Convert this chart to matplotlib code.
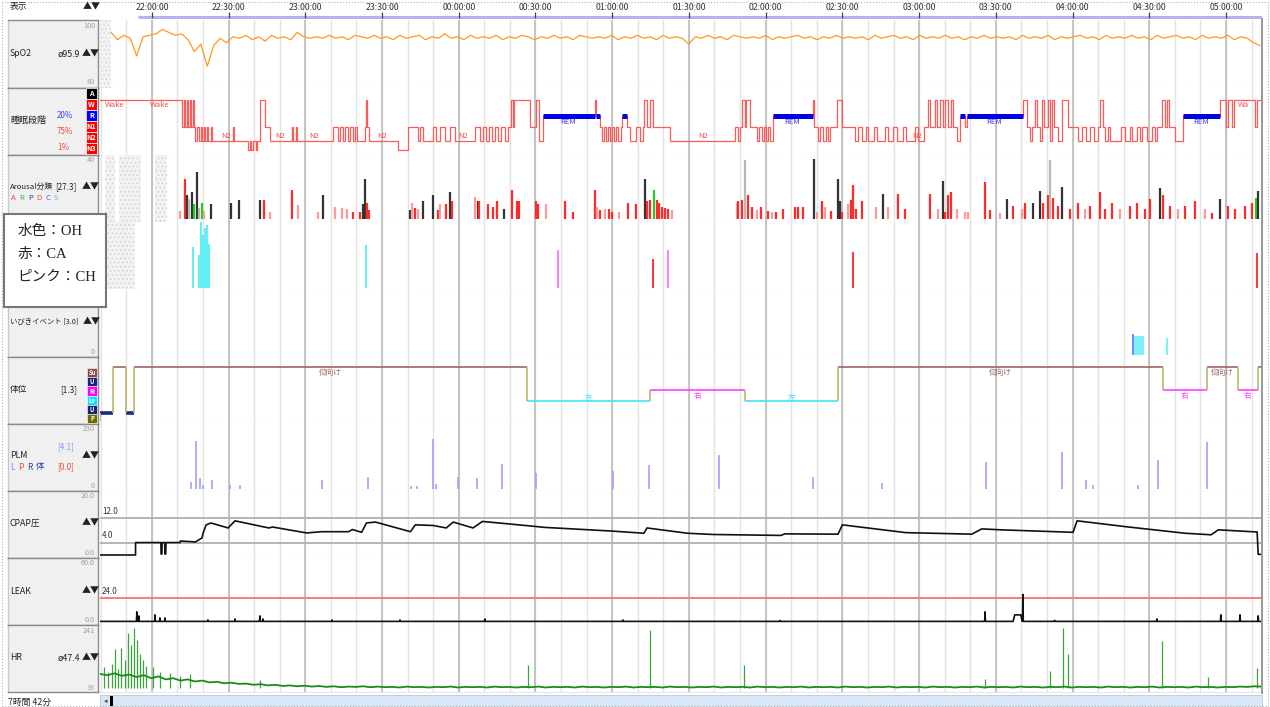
import matplotlib.pyplot as plt
import numpy as np
from matplotlib.patches import Rectangle

plt.rcParams['font.family'] = ['Noto Sans CJK JP', 'DejaVu Sans']
plt.rcParams['hatch.linewidth'] = 0.6

# ---------------- data (time = minutes after 21:00) ----------------
time_ticks = [60, 90, 120, 150, 180, 210, 240, 270, 300, 330, 360, 390, 420, 450, 480]
time_labels = ['22:00:00', '22:30:00', '23:00:00', '23:30:00', '00:00:00', '00:30:00',
               '01:00:00', '01:30:00', '02:00:00', '02:30:00', '03:00:00', '03:30:00',
               '04:00:00', '04:30:00', '05:00:00']

spo2 = [97.5, 95.0, 96.5, 95.5, 89.5, 96.0, 96.5, 97.0, 98.5, 97.5, 96.5, 97.0, 95.0, 91.0, 93.5, 86.0, 93.0, 95.5, 94.0, 96.0,
        95.5, 96.5, 95.0, 96.0, 94.5, 96.5, 95.5, 96.0, 95.0, 97.5, 96.0, 95.5, 96.0, 95.5, 96.5, 95.5, 96.0, 95.0, 96.5, 96.0,
        95.5, 96.5, 95.5, 96.0, 95.0, 96.5, 95.5, 96.0, 96.5, 95.0, 96.0, 95.5, 97.0, 95.5, 96.0, 95.0, 96.5, 95.5, 96.0, 95.5,
        96.5, 95.0, 96.0, 95.5, 96.5, 96.0, 95.0, 96.0, 95.5, 96.5, 95.5, 96.0, 95.0, 96.5, 96.0, 95.5, 96.0, 95.5, 96.5, 95.0,
        96.0, 95.5, 96.5, 95.5, 96.0, 95.0, 96.5, 95.5, 96.0, 95.5, 93.5, 96.0, 95.5, 96.5, 95.5, 96.0, 95.0, 96.5, 96.0, 95.5,
        96.0, 95.5, 96.5, 95.0, 96.0, 95.5, 96.0, 96.5, 95.5, 96.0, 95.0, 96.0, 95.5, 96.5, 95.5, 96.0, 95.5, 96.0, 95.0, 96.5,
        95.5, 96.0, 96.5, 95.5, 96.0, 95.0, 96.5, 95.5, 96.0, 95.5, 96.5, 95.5, 96.0, 95.0, 96.0, 95.5, 96.5, 95.5, 96.0, 95.5,
        96.0, 95.0, 96.5, 95.5, 96.0, 95.5, 96.5, 95.0, 96.0, 95.5, 96.0, 96.5, 95.5, 96.0, 95.0, 96.5, 95.5, 96.0, 95.5, 96.5,
        95.5, 96.0, 95.0, 96.5, 95.5, 96.0, 96.5, 95.5, 96.0, 95.0, 96.5, 95.5, 96.0, 95.5, 96.5, 95.0, 96.0, 95.5, 94.0, 93.0]
spo2_start, spo2_end = 44.0, 493.3

hyp_t = [39.7, 71.7, 72.5, 72.9, 73.7, 74.1, 74.9, 75.2, 76.0, 76.4, 76.8, 77.6, 78.4, 79.2, 79.6, 80.3, 80.7, 81.5,
         81.9, 83.1, 83.5, 91.7, 92.1, 97.5, 98.3, 98.7, 99.5, 100.7, 101.1, 102.2, 104.2, 106.1, 114.7, 115.1,
         116.3, 116.7, 130.8, 132.7, 133.5, 134.7, 135.5, 136.6, 137.4, 138.6, 139.4, 140.2, 143.3, 143.7, 144.1,
         144.8, 156.2, 160.1, 164.0, 164.8, 166.0, 169.9, 171.0, 172.6, 174.6, 176.5, 178.5, 186.3, 188.2, 189.4,
         190.6, 191.8, 193.0, 194.1, 195.3, 196.5, 198.0, 199.2, 200.4, 201.2, 201.5, 207.8, 210.1, 211.3, 212.9,
         233.2, 233.6, 235.2, 236.0, 236.7, 237.5, 238.3, 239.1, 239.9, 240.6, 241.4, 242.2, 243.4, 243.8, 245.7,
         246.9, 249.3, 250.8, 252.0, 252.4, 253.6, 254.7, 255.9, 262.5, 288.0, 289.1, 289.9, 290.7, 291.9, 292.3,
         293.8, 296.6, 297.3, 298.5, 299.3, 300.1, 300.9, 301.6, 302.8, 318.5, 318.8, 320.4, 321.2, 322.4, 323.5,
         324.3, 325.1, 327.8, 329.8, 334.9, 336.0, 337.6, 339.2, 340.0, 342.3, 343.5, 346.6, 347.8, 349.7, 351.3,
         353.6, 354.8, 358.3, 359.5, 361.9, 363.4, 364.2, 366.2, 366.9, 368.1, 369.3, 370.1, 371.3, 372.5, 373.3,
         374.8, 376.0, 378.0, 378.7, 400.6, 402.2, 403.4, 404.2, 405.3, 406.1, 407.3, 408.1, 408.9, 410.4, 411.2,
         412.0, 412.8, 414.3, 415.9, 418.2, 422.2, 423.7, 425.3, 426.8, 428.4, 430.0, 430.8, 431.9, 432.7, 433.9,
         434.7, 439.0, 440.5, 442.5, 443.3, 445.2, 446.4, 447.2, 449.1, 451.1, 452.3, 453.1, 455.0, 456.2, 457.0,
         457.8, 460.1, 463.2, 477.7, 480.0, 480.8, 482.4, 483.2, 491.4, 492.2]
hyp_s = ['W', 'N1', 'W', 'N1', 'W', 'N1', 'W', 'N1', 'W', 'N1', 'N2', 'N1', 'N2', 'N1', 'N2', 'N1', 'N2', 'N1',
         'N2', 'N1', 'N2', 'N1', 'N2', 'N3', 'N2', 'N3', 'N2', 'N3', 'N2', 'W', 'N1', 'N2', 'N1', 'N2',
         'N1', 'N2', 'N1', 'N2', 'N1', 'N2', 'N1', 'N2', 'N1', 'N2', 'N1', 'N2', 'N1', 'W', 'N1',
         'N2', 'N3', 'N1', 'N2', 'N1', 'N2', 'N1', 'N2', 'N1', 'N2', 'N1', 'N2', 'N1', 'N2', 'N1',
         'N2', 'N1', 'N2', 'N1', 'N2', 'N1', 'N2', 'N1', 'W', 'N1', 'W', 'N1', 'W', 'N2', 'R',
         'W', 'R', 'N1', 'N2', 'N1', 'N2', 'N1', 'N2', 'N1', 'N2', 'N1', 'N2', 'N1', 'R', 'N1',
         'N2', 'N1', 'N2', 'N1', 'W', 'N1', 'W', 'N1', 'N2', 'N1', 'N2', 'N1', 'W', 'N1', 'W',
         'N1', 'N2', 'N1', 'N2', 'N1', 'N2', 'N1', 'N2', 'R', 'W', 'N1', 'N2', 'N1', 'N2', 'N1',
         'N2', 'N1', 'W', 'N1', 'N2', 'N1', 'N2', 'N1', 'N2', 'N1', 'N2', 'N1', 'N2', 'N1', 'N2',
         'N1', 'N2', 'N1', 'N2', 'N1', 'W', 'N1', 'W', 'N1', 'W', 'N1', 'W', 'N1', 'W', 'N1',
         'N2', 'R', 'N1', 'R', 'W', 'N1', 'N2', 'N1', 'W', 'N1', 'N2', 'W', 'N1', 'W', 'N2',
         'W', 'N1', 'N2', 'W', 'N1', 'N2', 'N1', 'N2', 'N1', 'N2', 'N1', 'W', 'N1', 'N2', 'N1',
         'N2', 'N1', 'N2', 'N1', 'N2', 'N1', 'N2', 'N1', 'N2', 'N1', 'N2', 'N1', 'W', 'N1', 'W',
         'N1', 'N2', 'R', 'W', 'N1', 'W', 'N1', 'W', 'N1', 'W']
hyp_end = 493.3
stage_pct = ['20%', '75%', '1%']
stage_text_t = [45.5, 63.0, 89.0, 110.0, 123.5, 150.0, 181.6, 275.5, 359.2, 222.7, 310.3, 389.3, 470.3, 487.0]
stage_text_s = ['Wake', 'Wake', 'N2', 'N2', 'N2', 'N2', 'N2', 'N2', 'N2', 'REM', 'REM', 'REM', 'REM', 'Wa']

aro_t = [71.0, 72.9, 73.7, 74.5, 75.6, 76.4, 77.6, 78.4, 79.6, 80.3, 83.1, 90.9, 94.0, 102.2, 103.8, 106.1,
         114.8, 117.1, 124.9, 126.9, 131.6, 134.3, 136.3, 138.6, 141.4, 142.5, 143.3, 144.1, 144.9, 160.9,
         161.7, 162.9, 164.0, 166.0, 169.9, 171.9, 172.6, 175.0, 176.5, 177.3, 186.3, 187.5, 187.9, 191.4,
         193.4, 194.9, 197.7, 200.8, 202.8, 203.5, 210.2, 211.0, 214.1, 221.5, 224.7, 233.3, 234.0, 235.2,
         237.2, 238.7, 239.9, 242.6, 246.2, 249.3, 252.8, 253.6, 254.8, 256.3, 257.5, 258.3, 259.5, 260.6,
         261.8, 263.4, 288.8, 289.2, 290.8, 291.9, 293.1, 294.7, 296.6, 298.2, 300.9, 302.5, 304.0, 306.8,
         311.5, 312.7, 314.6, 318.9, 320.1, 322.0, 323.2, 325.6, 328.3, 329.1, 329.9, 332.2, 333.4, 334.2,
         335.3, 337.7, 343.2, 345.9, 347.8, 351.8, 354.5, 364.3, 367.4, 369.4, 370.1, 371.3, 372.5, 374.8,
         378.0, 379.1, 385.8, 387.7, 391.6, 394.4, 396.7, 400.3, 401.4, 404.6, 407.3, 408.5, 410.4, 411.2,
         412.4, 414.3, 415.9, 419.0, 422.2, 424.9, 426.8, 430.8, 432.7, 435.5, 438.6, 442.5, 445.2, 448.4,
         450.3, 454.2, 455.4, 458.2, 461.3, 464.0, 467.9, 471.8, 474.6, 477.7, 480.8, 483.6, 487.5, 490.2,
         491.8, 492.6]
aro_h = [5.4, 27, 16, 13.5, 18, 10, 32, 7.5, 11, 5.4, 10, 10.7, 13, 13, 13, 5,
         20, 9.5, 5, 16, 8, 7.5, 7, 5, 5, 10, 27, 11, 6, 6,
         11, 7.5, 7, 12, 16, 6, 10, 10, 18, 12, 15, 12, 12, 10,
         8, 12.5, 7, 20, 12, 12, 12, 10, 10, 12, 5, 20, 8, 6,
         7, 7, 4.5, 5, 11, 10, 27, 12, 13, 20, 13, 11, 8.5, 7.5,
         7, 6, 11, 12, 13, 40, 16, 8.5, 6, 8, 5.5, 5, 5, 7,
         8.5, 8.5, 8.5, 41, 4.5, 12, 8.5, 5.5, 27, 12, 4.5, 10, 13, 23,
         7, 12, 8.5, 17, 8, 17, 7, 17, 7, 26, 5, 16, 18, 7,
         4.5, 5, 25, 6, 4, 13.5, 9, 7, 11, 11, 19, 11, 16, 40,
         14, 9, 22, 7, 11, 7, 9, 18, 7, 11, 7, 9, 11, 7,
         13.5, 21, 16, 9, 7, 9, 12, 7, 4, 13.5, 9, 7, 9, 11,
         14, 19]
aro_c = ['Ap', 'A', 'K', 'L', 'K', 'G', 'K', 'L', 'G', 'Ap', 'K', 'K', 'K', 'K', 'A', 'Ap',
         'A', 'Ap', 'Ap', 'K', 'Ap', 'Ap', 'Ap', 'A', 'A', 'K', 'K', 'A', 'A', 'K',
         'Ap', 'A', 'Ap', 'K', 'K', 'A', 'Ap', 'A', 'K', 'A', 'Ap', 'K', 'A', 'A',
         'A', 'A', 'K', 'A', 'A', 'A', 'A', 'A', 'Ap', 'A', 'A', 'A', 'Ap', 'A',
         'Ap', 'A', 'A', 'Ap', 'A', 'A', 'K', 'A', 'A', 'G', 'A', 'A', 'A', 'A',
         'A', 'Ap', 'L', 'A', 'A', 'L', 'A', 'A', 'Ap', 'A', 'A', 'Ap', 'A', 'A',
         'A', 'A', 'A', 'K', 'Ap', 'A', 'Ap', 'A', 'K', 'K', 'A', 'Ap', 'A', 'A',
         'A', 'A', 'Ap', 'K', 'Ap', 'A', 'A', 'A', 'Ap', 'K', 'A', 'A', 'A', 'Ap',
         'Ap', 'Ap', 'A', 'A', 'Ap', 'K', 'A', 'Ap', 'A', 'K', 'K', 'A', 'A', 'L',
         'A', 'A', 'K', 'A', 'A', 'Ap', 'A', 'A', 'A', 'A', 'Ap', 'A', 'A', 'A',
         'A', 'K', 'A', 'A', 'Ap', 'A', 'A', 'Ap', 'A', 'K', 'A', 'A', 'A', 'A',
         'G', 'K']
aro_letters = ['A', 'R', 'P', 'D', 'C', 'S']

resp_t = [76.0, 78.4, 79.2, 79.9, 80.7, 81.5, 82.3, 143.7, 218.8, 255.9, 261.8, 334.2, 492.2]
resp_v = [37, 30, 60, 48, 55, 57, 40, 39, 35, 26, 35, 33, 32]
resp_type = ['OH', 'OH', 'OH', 'OH', 'OH', 'OH', 'OH', 'OH', 'CH', 'CA', 'CH', 'CA', 'CA']

snore_t = [443.7, 444.5, 445.2, 446.0, 446.8, 447.6, 457.0]
snore_v = [19, 17, 17, 17, 17, 17, 15]

pos_t = [39.7, 44.7, 49.8, 53.0, 206.7, 254.8, 291.9, 328.3, 455.4, 472.6, 484.7, 492.6]
pos_s = ['U', 'Su', 'U', 'Su', 'Le', 'Ri', 'Le', 'Su', 'Ri', 'Su', 'Ri', 'Su']
pos_end = 494.1
pos_legend = ['Su', 'U', 'Ri', 'Le', 'U', 'P']
pos_names = {'Su': '仰向け', 'Le': '左', 'Ri': '右'}

plm_t = [75.3, 77.2, 78.8, 79.9, 83.5, 90.5, 94.4, 126.5, 144.5, 161.3, 163.6, 169.9, 171.1, 179.7, 187.1,
         196.9, 210.2, 240.3, 254.4, 281.8, 318.5, 345.5, 386.2, 415.9, 425.3, 428.0, 445.6, 453.4, 472.6]
plm_v = [28, 184, 42, 17, 35, 17, 17, 35, 45, 10, 10, 191, 21, 45, 42,
         97, 63, 70, 90, 132, 45, 24, 104, 143, 35, 17, 17, 111, 181]

cpap_t = [39.7, 53.6, 53.6, 63.5, 63.6, 63.9, 64.0, 65.0, 65.1, 65.4, 65.5, 71.0, 71.1, 77.0, 79.6, 80.0,
          81.2, 83.1, 89.8, 92.5, 105.7, 107.2, 120.5, 126.4, 136.9, 138.4, 142.0, 143.9, 147.4, 161.1,
          163.0, 170.0, 175.1, 177.8, 185.6, 189.2, 199.6, 209.8, 213.3, 239.9, 252.4, 253.6, 269.4, 279.5,
          306.0, 307.5, 328.3, 330.0, 354.8, 375.5, 380.6, 384.5, 392.0, 420.2, 421.8, 442.0, 464.0, 474.2,
          477.0, 492.2, 492.6, 494.1]
cpap_v = [0.0, 0.0, 4.0, 4.0, 0.3, 0.3, 4.0, 4.0, 0.3, 0.3, 4.0, 4.0, 4.5, 4.2, 5.5, 7.0,
          9.7, 10.3, 8.7, 11.0, 8.7, 9.0, 7.1, 7.5, 7.5, 8.2, 7.3, 10.3, 10.6, 7.5,
          9.7, 9.5, 8.7, 10.6, 8.7, 10.8, 10.0, 9.2, 8.9, 7.7, 7.0, 8.7, 7.0, 6.6,
          6.3, 6.8, 6.7, 9.7, 7.2, 6.8, 6.7, 8.4, 8.1, 7.3, 11.0, 9.0, 7.0, 6.5,
          8.1, 7.4, 0.2, 0.2]
cpap_refs = [12.0, 4.0]

leak_base = 0.6
leak_spike_t = [54.1, 54.9, 61.2, 63.1, 65.1, 81.9, 92.5, 102.2, 103.4, 130.4, 157.0, 190.2, 244.2,
                305.6, 385.8, 400.6, 413.0, 453.0, 478.0, 485.5, 492.6]
leak_spike_v = [10, 6, 7, 4, 4, 2, 3, 6, 3, 2, 2, 3, 2, 1.5, 10, 27, 1.5, 3, 7, 7, 6]
leak_bump_t = [396.8, 397.4, 399.8, 400.3]
leak_bump_v = [0.6, 7.0, 7.0, 0.6]
leak_ref = 24.0

hr = [88, 84, 90, 82, 86, 78, 84, 74, 80, 70, 74, 66, 70, 63, 66, 60, 62, 57, 59, 55,
      56, 52, 54, 50, 52, 48, 50, 47, 49, 46, 48, 45, 47, 44, 46, 45, 47, 44, 46, 44,
      45, 43, 46, 44, 45, 43, 45, 44, 46, 43, 45, 44, 45, 43, 46, 44, 45, 43, 45, 44,
      46, 43, 45, 44, 45, 43, 46, 44, 45, 43, 45, 44, 46, 43, 45, 44, 45, 43, 46, 44,
      45, 43, 45, 44, 46, 43, 45, 44, 45, 43, 46, 44, 45, 43, 45, 44, 46, 43, 45, 44,
      45, 43, 46, 44, 45, 43, 45, 44, 46, 43, 45, 44, 45, 43, 46, 44, 45, 43, 45, 44,
      46, 43, 45, 44, 45, 43, 46, 44, 45, 43, 45, 44, 46, 43, 45, 44, 45, 43, 46, 44,
      45, 43, 45, 44, 46, 43, 45, 44, 45, 43, 46, 44, 45, 43, 45, 44, 46, 45, 47, 46]
hr_start, hr_end = 39.7, 494.0
hr_spike_t = [41.3, 42.8, 44.4, 45.5, 46.7, 47.9, 49.4, 50.6, 51.8, 53.0, 54.1, 55.3, 56.5, 57.7, 60.4,
              63.1, 67.0, 71.0, 74.9, 102.2, 207.0, 254.7, 291.5, 385.7, 411.2, 416.3, 418.2, 455.0,
              473.0, 492.2]
hr_spike_v = [110, 95, 120, 172, 105, 175, 136, 225, 185, 241, 202, 153, 136, 115, 110,
              95, 90, 80, 87, 67, 117, 235, 117, 71, 97, 241, 153, 198, 77, 107]

# ---------------- layout helpers (pixel coordinates) ----------------
W, H = 1270, 707
X0, X1 = 39.7, 494.1
fig = plt.figure(figsize=(W / 100, H / 100), dpi=100)
fig.patch.set_facecolor('white')


def px_box(x, y, w, h):
    return [x / W, 1 - (y + h) / H, w / W, h / H]


def ftext(x, y, s, **kw):
    kw.setdefault('fontsize', 6.3)
    kw.setdefault('va', 'center')
    kw.setdefault('color', '#222222')
    fig.text(x / W, 1 - y / H, s, **kw)


def frect(x, y, w, h, **kw):
    fig.add_artist(Rectangle((x / W, 1 - (y + h) / H), w / W, h / H,
                             transform=fig.transFigure, **kw))


tops = [20, 88, 155, 222, 289, 357, 424, 491, 558, 625, 692]
ylims = [(78.6, 101.7), (0, 67), (-2.0, 43.4), (-0.9, 60), (-2.0, 60), (0.04, 5.87),
         (-7.7, 249), (-0.97, 20.6), (-2.95, 62.9), (28, 251)]
minor = np.arange(40, 491, 10)
major = np.arange(60, 481, 30)

axs = []
for i in range(10):
    y0, y1 = tops[i], tops[i + 1]
    ax = fig.add_axes(px_box(100, y0, 1162, y1 - y0))
    ax.set_xlim(X0, X1)
    ax.set_ylim(*ylims[i])
    ax.set_xticks([])
    ax.set_yticks([])
    for s in ax.spines.values():
        s.set_visible(False)
    ax.spines['bottom'].set_visible(True)
    ax.spines['bottom'].set_color('#e6e6e6')
    for g in minor:
        ax.axvline(g, color='#e3e3e3', lw=1.0, zorder=0)
    for g in major:
        ax.axvline(g, color='#bcbcbc', lw=1.2, zorder=0)
    axs.append(ax)

    lab = fig.add_axes(px_box(8, y0, 90, y1 - y0))
    lab.set_facecolor('#f0f0f0')
    lab.set_xticks([])
    lab.set_yticks([])
    for s in lab.spines.values():
        s.set_color('#8a8a8a')
        s.set_linewidth(1.0)
    lab.spines['left'].set_color('#c8c8c8')

(ax_spo2, ax_hyp, ax_aro, ax_resp, ax_snore, ax_pos, ax_plm, ax_cpap, ax_leak, ax_hr) = axs

# right border of plot area
frect(1261, 18, 1.5, 676, color='#9a9a9a', lw=0)

# ---------------- header ----------------
hdr = fig.add_axes(px_box(100, 0, 1162, 19))
hdr.set_xlim(X0, X1)
hdr.set_ylim(0, 1)
hdr.axis('off')
hdr.hlines(0.13, 54.5, X1, color='#b4b4ee', lw=2.2)
hdr.vlines(time_ticks, 0.05, 0.35, color='#444444', lw=0.9)
for t, s in zip(time_ticks, time_labels):
    hdr.text(t, 0.62, s, ha='center', va='center', fontsize=6.3, color='#333333')
ftext(10, 6, '表示', fontsize=6.3)
ftext(83, 7, '▲▼', fontsize=6.5)

# ---------------- SpO2 ----------------
spo2_t = np.linspace(spo2_start, spo2_end, len(spo2))
ax_spo2.axvspan(X0, spo2_start, facecolor='#f3f3f3', hatch='....', edgecolor='#d6d6d6', lw=0)
ax_spo2.plot(spo2_t, spo2, color='#ff9a1a', lw=0.9)
ftext(10, 54, 'SpO2')
ftext(57, 54, 'ø95.9')
ftext(82, 54, '▲▼', fontsize=6.5)
ftext(95, 26, '100', ha='right', fontsize=5.2, color='#a0a0a0')
ftext(95, 82, '80', ha='right', fontsize=5.2, color='#a0a0a0')

# ---------------- sleep stages ----------------
stage_y = {'W': 55, 'R': 39, 'N1': 28, 'N2': 14, 'N3': 5}
hy = [stage_y[s] for s in hyp_s]
ax_hyp.step(hyp_t + [hyp_end], hy + [hy[-1]], where='post', color='#ff5a5a', lw=0.9)
bounds = hyp_t + [hyp_end]
for i, s in enumerate(hyp_s):
    if s == 'R':
        ax_hyp.hlines(stage_y['R'], bounds[i], bounds[i + 1], color='#0000e6', lw=3.6)
for t, s in zip(stage_text_t, stage_text_s):
    if s == 'REM':
        ax_hyp.text(t, stage_y['R'] - 6, s, ha='center', va='center', fontsize=5.5, color='#3a3aff')
    elif s == 'N2':
        ax_hyp.text(t, stage_y['N2'] + 5, s, ha='center', va='center', fontsize=5.5, color='#ff4a4a')
    else:
        ax_hyp.text(t, stage_y['W'] - 5, s, ha='center', va='center', fontsize=5.5, color='#ff4a4a')
ftext(10, 120, '睡眠段階', fontsize=6.5)
for yy, s, c in zip([116, 132, 147], stage_pct, ['#4040ff', '#ff4a4a', '#ff4a4a']):
    ftext(57, yy, s, color=c, fontsize=5.8)
leg = [('A', '#000000'), ('W', '#ff0000'), ('R', '#0000ff'), ('N1', '#ff0000'), ('N2', '#ff0000'), ('N3', '#ff0000')]
for k, (s, c) in enumerate(leg):
    frect(86, 88 + 11 * k, 11, 11, facecolor=c, edgecolor='white', lw=0.5)
    ftext(91.5, 93.5 + 11 * k, s, ha='center', color='white', fontsize=5.2, fontweight='bold')

# ---------------- arousal ----------------
aro_col = {'A': '#ff2a2a', 'Ap': '#ff9a9a', 'K': '#333333', 'G': '#22cc22', 'L': '#b8b8b8'}
for a, b in [(41.7, 45.6), (47.1, 55.7), (61.2, 65.9)]:
    ax_aro.axvspan(a, b, facecolor='#f2f2f2', hatch='....', edgecolor='#d0d0d0', lw=0)
ax_aro.vlines(aro_t, 0, aro_h, colors=[aro_col[c] for c in aro_c], lw=1.6)
ftext(10, 187, 'Arousal分類', fontsize=5.6)
ftext(55, 187, '[27.3]', fontsize=5.8)
ftext(82, 187, '▲▼', fontsize=6.5)
for k, (s, c) in enumerate(zip(aro_letters, ['#ff4040', '#40c040', '#404080', '#ff4040', '#4060ff', '#60c0c0'])):
    ftext(11 + 8.5 * k, 198, s, color=c, fontsize=5.6)
ftext(95, 160, '40', ha='right', fontsize=5.2, color='#a0a0a0')

# ---------------- respiratory events ----------------
resp_col = {'OH': '#55eef5', 'CA': '#ff2828', 'CH': '#ff70ff'}
ax_resp.axvspan(X0, 53.5, facecolor='#f2f2f2', hatch='....', edgecolor='#d0d0d0', lw=0)
ax_resp.vlines(resp_t, 0, resp_v, colors=[resp_col[c] for c in resp_type], lw=1.3)

# ---------------- snore ----------------
ax_snore.vlines(snore_t, 0, snore_v, colors=['#4a68ff'] + ['#55eef5'] * (len(snore_t) - 1), lw=1.1)
ftext(10, 322, 'いびきイベント [3.0]', fontsize=5.3)
ftext(83, 322, '▲▼', fontsize=6.5)
ftext(95, 352, '0', ha='right', fontsize=5.2, color='#a0a0a0')

# ---------------- body position ----------------
pos_level = {'Su': 5, 'Ri': 3, 'Le': 2, 'U': 1}
pos_color = {'Su': '#9c6565', 'Ri': '#ff40ff', 'Le': '#40e6f2', 'U': '#1a2a80'}
pb = pos_t + [pos_end]
for i, s in enumerate(pos_s):
    lw = 2.6 if s == 'U' else 1.2
    ax_pos.hlines(pos_level[s], pb[i], pb[i + 1], color=pos_color[s], lw=lw)
    if i > 0:
        ax_pos.vlines(pb[i], pos_level[pos_s[i - 1]], pos_level[s], color='#bdb56e', lw=1.2)
    if s in pos_names and pb[i + 1] - pb[i] > 5.5:
        off = 0.3 if s == 'Le' else -0.5
        ax_pos.text((pb[i] + pb[i + 1]) / 2, pos_level[s] + off, pos_names[s], ha='center', va='center',
                    fontsize=5.5, color=pos_color[s])
ax_pos.vlines(pb[0], 0.3, pos_level[pos_s[0]], color='#bdb56e', lw=1.2)
ftext(10, 390, '体位')
ftext(60, 390, '[1.3]', fontsize=5.8)
pos_leg_col = {'Su': '#8c4a4a', 'U': '#1a237e', 'Ri': '#ff00ff', 'Le': '#00e8ff', 'P': '#6b6b00'}
for k, s in enumerate(pos_legend):
    frect(87, 368 + 9.2 * k, 10, 9.2, facecolor=pos_leg_col[s], edgecolor='white', lw=0.4)
    ftext(92, 372.6 + 9.2 * k, s, ha='center', color='white', fontsize=4.3, fontweight='bold')

# ---------------- PLM ----------------
ax_plm.vlines(plm_t, 0, plm_v, colors='#a0a0ff', lw=1.2)
ftext(95, 429, '230', ha='right', fontsize=5.2, color='#a0a0a0')
ftext(57, 447, '[4.1]', color='#9090ff', fontsize=5.8)
ftext(10, 456, 'PLM')
ftext(82, 456, '▲▼', fontsize=6.5)
for k, (s, c) in enumerate(zip(['L', 'P', 'R', '体'], ['#8080ff', '#ff4040', '#2040c0', '#2040a0'])):
    ftext(10 + 8.5 * k, 467, s, color=c, fontsize=6)
ftext(57, 467, '[0.0]', color='#ff4040', fontsize=5.8)
ftext(95, 486, '0', ha='right', fontsize=5.2, color='#a0a0a0')

# ---------------- CPAP ----------------
for r in cpap_refs:
    ax_cpap.axhline(r, color='#b4b4b4', lw=1.4, zorder=1)
    ax_cpap.text(X0 + 0.8, r + 0.7, f'{r:.1f}', fontsize=5.8, color='#333333', va='bottom')
ax_cpap.plot(cpap_t, cpap_v, color='#111111', lw=1.2, zorder=3)
ftext(95, 496, '20.0', ha='right', fontsize=5.2, color='#a0a0a0')
ftext(10, 523, 'CPAP圧')
ftext(82, 523, '▲▼', fontsize=6.5)
ftext(95, 553, '0.0', ha='right', fontsize=5.2, color='#a0a0a0')

# ---------------- LEAK ----------------
lt = [X0, X1] + leak_bump_t
lv = [leak_base, leak_base] + leak_bump_v
for t, v in zip(leak_spike_t, leak_spike_v):
    lt += [t - 0.15, t, t + 0.15]
    lv += [leak_base, v, leak_base]
order = np.argsort(lt, kind='stable')
ax_leak.axhline(leak_ref, color='#ff7a7a', lw=1.4)
ax_leak.text(X0 + 0.8, leak_ref + 1.5, f'{leak_ref:.1f}', fontsize=5.8, color='#333333', va='bottom')
ax_leak.plot(np.array(lt)[order], np.array(lv)[order], color='#111111', lw=1.2)
ftext(95, 563, '60.0', ha='right', fontsize=5.2, color='#a0a0a0')
ftext(10, 591, 'LEAK')
ftext(82, 591, '▲▼', fontsize=6.5)
ftext(95, 620, '0.0', ha='right', fontsize=5.2, color='#a0a0a0')

# ---------------- HR ----------------
hr_t = np.linspace(hr_start, hr_end, len(hr))
ax_hr.vlines(hr_spike_t, 42, hr_spike_v, colors='#3aa63a', lw=0.9)
ax_hr.plot(hr_t, hr, color='#1a8c1a', lw=1.3)
ftext(95, 631, '241', ha='right', fontsize=5.2, color='#a0a0a0')
ftext(10, 658, 'HR')
ftext(57, 658, 'ø47.4')
ftext(82, 658, '▲▼', fontsize=6.5)
ftext(95, 688, '38', ha='right', fontsize=5.2, color='#a0a0a0')

# ---------------- bottom bar ----------------
frect(100, 695, 1162, 12, facecolor='#d8e7f8', edgecolor='#b8c8da', lw=0.6)
frect(110, 696, 3, 10, color='black', lw=0)
ftext(104, 701, '◂', fontsize=5, color='#444444')
ftext(8, 702, '7時間 42分', fontsize=6.3)

# ---------------- annotation box ----------------
box = fig.add_axes(px_box(4, 214, 102, 93), zorder=20)
box.set_facecolor('white')
box.set_xticks([])
box.set_yticks([])
for s in box.spines.values():
    s.set_color('#777777')
    s.set_linewidth(1.5)
for k, s in enumerate(['水色：OH', '赤：CA', 'ピンク：CH']):
    box.text(0.13, 1 - (17 + 23 * k) / 93, s, transform=box.transAxes, va='center', ha='left',
             fontsize=10.5, color='#222222', family=['Liberation Serif', 'Noto Sans CJK JP'])

# outer dotted frame
frect(1.5, 1.5, 1266, 704, facecolor='none', edgecolor='#b0b0b0', lw=0.8, linestyle=':')

fig.savefig('out.png', dpi=100)
